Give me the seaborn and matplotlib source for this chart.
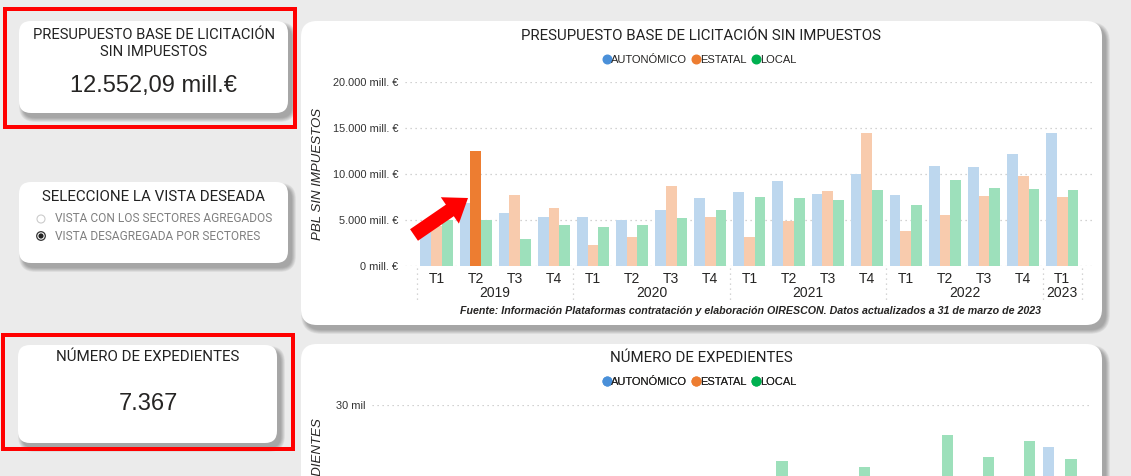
import matplotlib
matplotlib.use("Agg")
import matplotlib.pyplot as plt
import matplotlib.transforms as mtransforms
from matplotlib.patches import FancyBboxPatch, Rectangle, FancyArrow, Circle
from matplotlib.lines import Line2D
from matplotlib import font_manager as fm
import seaborn as sns
import pandas as pd

# ---------------- data ----------------
quarters = ["T1", "T2", "T3", "T4", "T1", "T2", "T3", "T4", "T1", "T2", "T3", "T4",
            "T1", "T2", "T3", "T4", "T1"]
years = ["2019"] * 4 + ["2020"] * 4 + ["2021"] * 4 + ["2022"] * 4 + ["2023"]
sectors = ["AUTONÓMICO", "ESTATAL", "LOCAL"]

# Presupuesto base de licitación sin impuestos (mill. €)
pbl_autonomico = [4100, 6800, 5770, 5330, 5330, 5000, 6100, 7360, 8070, 9270, 7780, 10000,
                  7710, 10910, 10730, 12150, 14510]
pbl_estatal = [4300, 12552.09, 7740, 6280, 2260, 3100, 8650, 5320, 3160, 4840, 8150, 14510,
               3780, 5560, 7600, 9820, 7490]
pbl_local = [4950, 5000, 2920, 4450, 4230, 4450, 5220, 6050, 7490, 7420, 7130, 8260,
             6580, 9350, 8440, 8360, 8260]

# Número de expedientes
exp_autonomico = [15000, 16500, 14000, 17500, 14500, 13500, 15500, 18500, 17000, 18500, 16000,
                  19500, 17500, 19000, 17000, 19500, 24700]
exp_estatal = [6500, 7367, 6000, 7500, 5000, 5500, 6500, 8000, 6000, 7000, 6500, 8500,
               6500, 7500, 7000, 8500, 7500]
exp_local = [16000, 18500, 15000, 19000, 15500, 14500, 17500, 19500, 18000, 23000, 18500, 22200,
             19000, 26300, 23500, 25500, 23200]

pbl_ticks = [0, 5000, 10000, 15000, 20000]
pbl_ticklabels = ["0 mill. €", "5.000 mill. €", "10.000 mill. €", "15.000 mill. €", "20.000 mill. €"]
exp_ticks = [0, 10000, 20000, 30000]
exp_ticklabels = ["0 mil", "10 mil", "20 mil", "30 mil"]

selected_sector = "ESTATAL"
selected_index = 1

faded = {"AUTONÓMICO": "#bdd7ee", "ESTATAL": "#f8cbad", "LOCAL": "#9de0bb"}
strong = {"AUTONÓMICO": "#4a90d9", "ESTATAL": "#ed7d31", "LOCAL": "#00b050"}

# ---------------- style ----------------
sns.set_theme(style="white")
names = {f.name for f in fm.fontManager.ttflist}


def pick(*cands):
    for c in cands:
        if c in names:
            return c
    return "DejaVu Sans"


DIN = pick("Roboto", "Liberation Sans")
SANS = pick("Liberation Sans", "Arial", "DejaVu Sans")
plt.rcParams["font.family"] = [SANS, "DejaVu Sans"]
DINF = [DIN, "DejaVu Sans"]

W, H = 1131, 476
fig = plt.figure(figsize=(W / 100, H / 100), dpi=100)
fig.patch.set_facecolor("#ebebeb")

bg = fig.add_axes([0, 0, 1, 1])
bg.set_xlim(0, W)
bg.set_ylim(H, 0)
bg.axis("off")
bg.set_zorder(0)


def card(x0, y0, x1, y1, r=12):
    w, h = x1 - x0, y1 - y0
    for g in range(8, -1, -1):
        p = FancyBboxPatch((x0 + 4 - g / 2, y0 + 5 - g / 2), w + g, h + g,
                           boxstyle=f"round,pad=0,rounding_size={r + g / 2}",
                           fc="black", ec="none", alpha=0.037, zorder=1)
        bg.add_patch(p)
    bg.add_patch(FancyBboxPatch((x0, y0), w, h, boxstyle=f"round,pad=0,rounding_size={r}",
                                fc="white", ec="none", zorder=2))


# Cards
card(19, 21, 288, 113)
card(19, 182, 288, 263)
card(18, 345, 277, 443)
card(301, 21, 1102, 325, r=16)
card(301, 344, 1102, 520, r=16)

# Red boxes
for (x0, y0, x1, y1) in [(5, 9, 295, 127), (3, 335, 293, 449)]:
    bg.add_patch(Rectangle((x0, y0), x1 - x0, y1 - y0, fill=False, ec="#ff0000",
                           lw=4 * 0.72, zorder=3))

TC = "#222222"

# KPI 1
bg.text(154, 35, "PRESUPUESTO BASE DE LICITACIÓN", ha="center", va="center",
        fontsize=10.6, family=DINF, color=TC, zorder=4)
bg.text(154, 52, "SIN IMPUESTOS", ha="center", va="center",
        fontsize=10.6, family=DINF, color=TC, zorder=4)
bg.text(154, 86, "12.552,09 mill.€", ha="center", va="center", fontsize=17,
        color="#252423", zorder=4)

# Selector card
bg.text(154, 197, "SELECCIONE LA VISTA DESEADA", ha="center", va="center",
        fontsize=10.9, family=DINF, color=TC, zorder=4)
bg.text(55, 219, "VISTA CON LOS SECTORES AGREGADOS", ha="left", va="center",
        fontsize=8.6, family=DINF, color="#808080", zorder=4)
bg.text(55, 236, "VISTA DESAGREGADA POR SECTORES", ha="left", va="center",
        fontsize=8.6, family=DINF, color="#808080", zorder=4)
bg.add_patch(Circle((41, 219), 4, fc="white", ec="#cccccc", lw=0.8, zorder=4))
bg.add_patch(Circle((41, 236), 4.3, fc="white", ec="#333333", lw=0.9, zorder=4))
bg.add_patch(Circle((41, 236), 2.6, fc="#222222", ec="none", zorder=5))

# KPI 2
bg.text(148, 357, "NÚMERO DE EXPEDIENTES", ha="center", va="center",
        fontsize=10.9, family=DINF, color=TC, zorder=4)
bg.text(148, 404, "7.367", ha="center", va="center", fontsize=17,
        color="#252423", zorder=4)

# Chart titles and legends
for ty, title in [(36, "PRESUPUESTO BASE DE LICITACIÓN SIN IMPUESTOS"), (358, "NÚMERO DE EXPEDIENTES")]:
    bg.text(701, ty, title, ha="center", va="center", fontsize=10.8,
            family=DINF, color=TC, zorder=4)
    handles = [Line2D([], [], marker="o", linestyle="", markersize=6.2, color=strong[s]) for s in sectors]
    leg = bg.legend(handles, sectors, loc="center", bbox_to_anchor=(699, ty + 24),
                    bbox_transform=bg.transData, ncol=3, frameon=False,
                    handletextpad=-0.1, columnspacing=0.3, handlelength=1.0,
                    prop={"family": [SANS, "DejaVu Sans"], "size": 8})
    for t in leg.get_texts():
        t.set_color("#252423")
    leg.set_zorder(4)
    bg.add_artist(leg)

# Y axis labels
bg.text(318, 174, "PBL SIN IMPUESTOS", rotation=90, ha="center", va="center", fontsize=9.5,
        style="italic", color="#252423", zorder=4)
bg.text(318, 418, "NÚMERO DE EXPEDIENTES", rotation=90, ha="center", va="top", fontsize=9.5,
        style="italic", color="#252423", zorder=4)

# Footnote
bg.text(750, 311, "Fuente: Información Plataformas contratación y elaboración OIRESCON. "
        "Datos actualizados a 31 de marzo de 2023", ha="center", va="center", fontsize=7.7,
        style="italic", weight="bold", color="#252423", zorder=4)

cats = [f"{y} {q}" for y, q in zip(years, quarters)]


def long_df(a, e, l):
    rows = []
    for vals, s in zip([a, e, l], sectors):
        for c, v in zip(cats, vals):
            rows.append({"periodo": c, "sector": s, "valor": v})
    return pd.DataFrame(rows)


def bar_chart(ax, df, ticks, ticklabels, ylim, xlim):
    sns.barplot(data=df, x="periodo", y="valor", hue="sector", order=cats, hue_order=sectors,
                palette=faded, width=0.82, gap=0, saturation=1, errorbar=None, legend=False,
                linewidth=0, ax=ax)
    hi = sectors.index(selected_sector)
    ax.containers[hi][selected_index].set_facecolor(strong[selected_sector])
    ax.set_ylim(*ylim)
    ax.set_xlim(*xlim)
    ax.set_yticks(ticks)
    ax.set_yticklabels(ticklabels, fontsize=7.9, color="#333333")
    ax.yaxis.grid(True, linestyle=(0, (1, 3)), color="#c4c4c4", lw=0.9)
    ax.set_axisbelow(True)
    for sp in ax.spines.values():
        sp.set_visible(False)
    ax.tick_params(axis="both", length=0)
    ax.tick_params(axis="y", pad=5)
    ax.set_xlabel("")
    ax.set_ylabel("")
    ax.patch.set_alpha(0)
    ax.set_zorder(3)


ax1 = fig.add_axes([405 / W, 1 - 266 / H, 687 / W, 184 / H])
bar_chart(ax1, long_df(pbl_autonomico, pbl_estatal, pbl_local), pbl_ticks, pbl_ticklabels,
          (0, 20000), (-0.806, 16.76))
ax1.set_xticks(range(len(cats)))
ax1.set_xticklabels(quarters, fontsize=10, color="#252423")
ax1.tick_params(axis="x", pad=4)

# year labels and separators
tr = mtransforms.blended_transform_factory(ax1.transData, bg.transData)
groups = []
for i, y in enumerate(years):
    if not groups or groups[-1][0] != y:
        groups.append([y, i, i])
    else:
        groups[-1][2] = i
for y, i0, i1 in groups:
    ax1.text((i0 + i1) / 2, 293, y, transform=tr, ha="center", va="center", fontsize=10,
             color="#252423", clip_on=False)
    for xb in ([i0 - 0.5] if i0 == 0 else []) + [i1 + 0.5]:
        ax1.add_line(Line2D([xb, xb], [268, 301], transform=tr, color="#c8c8c8", lw=0.9,
                            linestyle=(0, (1, 3)), clip_on=False))

ax2 = fig.add_axes([372 / W, 1 - 645 / H, 720 / W, 240 / H])
bar_chart(ax2, long_df(exp_autonomico, exp_estatal, exp_local), exp_ticks, exp_ticklabels,
          (0, 30000), (-0.654, 16.78))
ax2.set_xticks([])

# Overlay red arrow
ov = fig.add_axes([0, 0, 1, 1])
ov.set_xlim(0, W)
ov.set_ylim(H, 0)
ov.axis("off")
ov.set_zorder(10)
ov.patch.set_alpha(0)
ov.add_patch(FancyArrow(414, 235, 54, -37, width=14, head_width=32, head_length=22,
                        length_includes_head=True, color="#ff0000", lw=0))

fig.savefig("out.png", dpi=100, facecolor=fig.get_facecolor())
